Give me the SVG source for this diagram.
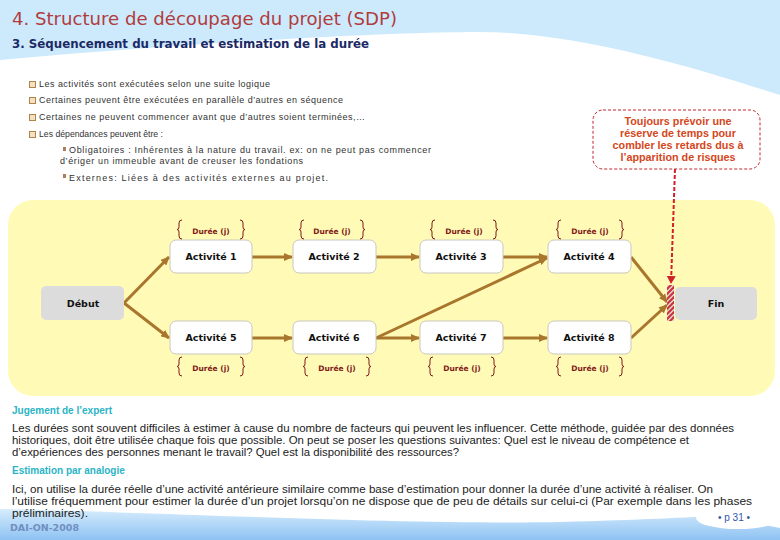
<svg xmlns="http://www.w3.org/2000/svg" width="780" height="540" viewBox="0 0 780 540">
<defs>
<style>
.t{font-family:"DejaVu Sans",Verdana,sans-serif}
.b{font-family:"Liberation Sans",Arial,sans-serif}
.bul{font-family:"Liberation Sans",Arial,sans-serif;font-size:9px;fill:#333}
.act rect{fill:#fff;stroke:#c8c8c0;stroke-width:1}
.act text{font-family:"DejaVu Sans",Verdana,sans-serif;font-size:9.5px;font-weight:bold;fill:#111;text-anchor:middle}
.term rect{fill:#dcdcdc}
.dur text{font-family:"DejaVu Sans",Verdana,sans-serif;font-size:7.5px;font-weight:bold;fill:#7f1a1a;text-anchor:middle}
.dur path{fill:none;stroke:#7f1a1a;stroke-width:1}
.conn line{stroke:#a8762c;stroke-width:3;marker-end:url(#ah)}
.para{font-size:10px;fill:#222}
.hd{font-size:10px;font-weight:bold;fill:#2ab4c6}
</style>
<marker id="ah" markerUnits="userSpaceOnUse" markerWidth="9" markerHeight="8" refX="8" refY="4" orient="auto">
<path d="M0,0 L9,4 L0,8 z" fill="#a8762c"/>
</marker>
<marker id="rh" markerUnits="userSpaceOnUse" markerWidth="9" markerHeight="9" refX="7" refY="4.5" orient="auto">
<path d="M0,0 L8,4.5 L0,9 z" fill="#d0202a"/>
</marker>
<clipPath id="strip"><rect x="667" y="285" width="7" height="36"/></clipPath>
<linearGradient id="foot" x1="0" y1="0" x2="0" y2="1">
<stop offset="0" stop-color="#d6ecfd"/>
<stop offset="1" stop-color="#8ec2f2"/>
</linearGradient>
</defs>

<rect width="780" height="540" fill="#fff"/>
<path d="M0,0 H780 V95 C690,66 570,30 470,32 C380,33 200,42 0,60 Z" fill="#cdeafc"/>

<text class="t" x="12" y="25" font-size="17" fill="#b03c3c" textLength="385" lengthAdjust="spacingAndGlyphs">4. Structure de découpage du projet (SDP)</text>
<text class="t" x="12" y="48" font-size="12" font-weight="bold" fill="#1b2a66" textLength="357" lengthAdjust="spacingAndGlyphs">3. Séquencement du travail et estimation de la durée</text>

<g id="bullets">
<g fill="#f2e2c4" stroke="#b08448" stroke-width="1">
<rect x="29.5" y="81.5" width="6" height="6"/>
<rect x="29.5" y="97.5" width="6" height="6"/>
<rect x="29.5" y="114.5" width="6" height="6"/>
<rect x="29.5" y="131.5" width="6" height="6"/>
</g>
<g fill="#a88060">
<rect x="63" y="147" width="3" height="4"/>
<rect x="63" y="174" width="3" height="4"/>
</g>
<text class="bul" x="39" y="87" textLength="231" lengthAdjust="spacing">Les activités sont exécutées selon une suite logique</text>
<text class="bul" x="39" y="103" textLength="304" lengthAdjust="spacing">Certaines peuvent être exécutées en parallèle d’autres en séquence</text>
<text class="bul" x="39" y="120" textLength="326" lengthAdjust="spacing">Certaines ne peuvent commencer avant que d’autres soient terminées,…</text>
<text class="bul" x="39" y="137" textLength="124" lengthAdjust="spacingAndGlyphs">Les dépendances peuvent être :</text>
<text class="bul" x="69" y="153" textLength="362" lengthAdjust="spacing">Obligatoires : Inhérentes à la nature du travail.  ex: on ne peut pas commencer</text>
<text class="bul" x="60" y="164" textLength="243" lengthAdjust="spacing">d’ériger un immeuble avant de creuser les fondations</text>
<text class="bul" x="69" y="181" textLength="259" lengthAdjust="spacing">Externes: Liées à des activités externes au projet.</text>
</g>

<rect x="8" y="200" width="767" height="196" rx="25" fill="#fffab6"/>

<g id="callout">
<rect x="593" y="110" width="167" height="59" rx="10" fill="none" stroke="#c0282e" stroke-width="1" stroke-dasharray="3,2"/>
<g class="b" font-size="10.8" font-weight="bold" fill="#d4471c" text-anchor="middle">
<text x="678" y="125">Toujours prévoir une</text>
<text x="678" y="137">réserve de temps pour</text>
<text x="678" y="149">combler les retards dus à</text>
<text x="678" y="161">l’apparition de risques</text>
</g>
</g>

<g id="connectors" class="conn">
<line x1="124" y1="303" x2="169" y2="257"/>
<line x1="124" y1="303" x2="169" y2="338"/>
<line x1="252" y1="257" x2="292" y2="257"/>
<line x1="376" y1="257" x2="419" y2="257"/>
<line x1="503" y1="257" x2="547" y2="257"/>
<line x1="252" y1="338" x2="292" y2="338"/>
<line x1="376" y1="338" x2="419" y2="338"/>
<line x1="503" y1="338" x2="547" y2="338"/>
<line x1="376" y1="338" x2="547" y2="258"/>
<line x1="631" y1="257" x2="667" y2="302"/>
<line x1="631" y1="338" x2="667" y2="305"/>
<line x1="675" y1="169" x2="671" y2="283" style="stroke:#d0202a;stroke-width:2;stroke-dasharray:4,2;marker-end:url(#rh)"/>
</g>

<g id="debut" class="term">
<rect x="41" y="286" width="83" height="34" rx="5"/>
<text class="t" x="83" y="307" font-size="9.5" font-weight="bold" text-anchor="middle" fill="#111">Début</text>
</g>
<g id="fin" class="term">
<rect x="675" y="287" width="82" height="33" rx="5"/>
<rect x="667" y="285" width="7" height="36" fill="#fff"/>
<g clip-path="url(#strip)" stroke="#d0303a" stroke-width="2">
<line x1="664" y1="292" x2="678" y2="278"/>
<line x1="664" y1="297" x2="678" y2="283"/>
<line x1="664" y1="302" x2="678" y2="288"/>
<line x1="664" y1="307" x2="678" y2="293"/>
<line x1="664" y1="312" x2="678" y2="298"/>
<line x1="664" y1="317" x2="678" y2="303"/>
<line x1="664" y1="322" x2="678" y2="308"/>
<line x1="664" y1="327" x2="678" y2="313"/>
<line x1="664" y1="332" x2="678" y2="318"/>
</g>
<text class="t" x="716" y="307" font-size="9.5" font-weight="bold" text-anchor="middle" fill="#111">Fin</text>
</g>

<g id="a1" class="act"><rect x="170" y="240" width="82" height="33" rx="6"/><text x="211" y="260">Activité 1</text></g>
<g id="a2" class="act"><rect x="293" y="240" width="83" height="33" rx="6"/><text x="334" y="260">Activité 2</text></g>
<g id="a3" class="act"><rect x="420" y="240" width="83" height="33" rx="6"/><text x="461" y="260">Activité 3</text></g>
<g id="a4" class="act"><rect x="548" y="240" width="83" height="33" rx="6"/><text x="589" y="260">Activité 4</text></g>
<g id="a5" class="act"><rect x="170" y="321" width="82" height="33" rx="6"/><text x="211" y="341">Activité 5</text></g>
<g id="a6" class="act"><rect x="293" y="321" width="83" height="33" rx="6"/><text x="334" y="341">Activité 6</text></g>
<g id="a7" class="act"><rect x="420" y="321" width="83" height="33" rx="6"/><text x="461" y="341">Activité 7</text></g>
<g id="a8" class="act"><rect x="548" y="321" width="83" height="33" rx="6"/><text x="589" y="341">Activité 8</text></g>

<g id="durees" class="dur">
<g transform="translate(211,220)"><path d="M-29,0 Q-32,0 -32,3 V7 Q-32,9.5 -34,9.5 Q-32,9.5 -32,12 V16 Q-32,19 -29,19 M29,0 Q32,0 32,3 V7 Q32,9.5 34,9.5 Q32,9.5 32,12 V16 Q32,19 29,19"/><text x="0" y="14">Durée (j)</text></g>
<g transform="translate(332,220)"><path d="M-28,0 Q-31,0 -31,3 V7 Q-31,9.5 -33,9.5 Q-31,9.5 -31,12 V16 Q-31,19 -28,19 M28,0 Q31,0 31,3 V7 Q31,9.5 33,9.5 Q31,9.5 31,12 V16 Q31,19 28,19"/><text x="0" y="14">Durée (j)</text></g>
<g transform="translate(464,220)"><path d="M-29,0 Q-32,0 -32,3 V7 Q-32,9.5 -34,9.5 Q-32,9.5 -32,12 V16 Q-32,19 -29,19 M29,0 Q32,0 32,3 V7 Q32,9.5 34,9.5 Q32,9.5 32,12 V16 Q32,19 29,19"/><text x="0" y="14">Durée (j)</text></g>
<g transform="translate(590,220)"><path d="M-29,0 Q-32,0 -32,3 V7 Q-32,9.5 -34,9.5 Q-32,9.5 -32,12 V16 Q-32,19 -29,19 M29,0 Q32,0 32,3 V7 Q32,9.5 34,9.5 Q32,9.5 32,12 V16 Q32,19 29,19"/><text x="0" y="14">Durée (j)</text></g>
<g transform="translate(211,357)"><path d="M-29,0 Q-32,0 -32,3 V7 Q-32,9.5 -34,9.5 Q-32,9.5 -32,12 V16 Q-32,19 -29,19 M29,0 Q32,0 32,3 V7 Q32,9.5 34,9.5 Q32,9.5 32,12 V16 Q32,19 29,19"/><text x="0" y="14">Durée (j)</text></g>
<g transform="translate(337,357)"><path d="M-29,0 Q-32,0 -32,3 V7 Q-32,9.5 -34,9.5 Q-32,9.5 -32,12 V16 Q-32,19 -29,19 M29,0 Q32,0 32,3 V7 Q32,9.5 34,9.5 Q32,9.5 32,12 V16 Q32,19 29,19"/><text x="0" y="14">Durée (j)</text></g>
<g transform="translate(462,357)"><path d="M-29,0 Q-32,0 -32,3 V7 Q-32,9.5 -34,9.5 Q-32,9.5 -32,12 V16 Q-32,19 -29,19 M29,0 Q32,0 32,3 V7 Q32,9.5 34,9.5 Q32,9.5 32,12 V16 Q32,19 29,19"/><text x="0" y="14">Durée (j)</text></g>
<g transform="translate(590,357)"><path d="M-29,0 Q-32,0 -32,3 V7 Q-32,9.5 -34,9.5 Q-32,9.5 -32,12 V16 Q-32,19 -29,19 M29,0 Q32,0 32,3 V7 Q32,9.5 34,9.5 Q32,9.5 32,12 V16 Q32,19 29,19"/><text x="0" y="14">Durée (j)</text></g>
</g>

<path d="M0,509 C150,512 400,525 560,522 C640,520 690,517 720,516 L780,528 V540 H0 Z" fill="url(#foot)"/>
<ellipse cx="738" cy="518" rx="42" ry="11" fill="#fff"/>

<g id="texts">
<text class="b hd" x="12" y="414">Jugement de l’expert</text>
<text class="b para" x="12" y="432" textLength="722" lengthAdjust="spacingAndGlyphs">Les durées sont souvent difficiles à estimer à cause du nombre de facteurs qui peuvent les influencer. Cette méthode, guidée par des données</text>
<text class="b para" x="12" y="444" textLength="677" lengthAdjust="spacingAndGlyphs">historiques, doit être utilisée chaque fois que possible.  On peut se poser les questions suivantes: Quel est le niveau de compétence et</text>
<text class="b para" x="12" y="456" textLength="447" lengthAdjust="spacingAndGlyphs">d’expériences des personnes menant le travail? Quel est la disponibilité des ressources?</text>
<text class="b hd" x="12" y="474">Estimation par analogie</text>
<text class="b para" x="12" y="493" textLength="701" lengthAdjust="spacingAndGlyphs">Ici, on utilise la durée réelle d’une activité antérieure similaire comme base d’estimation pour donner la durée d’une activité à réaliser. On</text>
<text class="b para" x="12" y="505" textLength="740" lengthAdjust="spacingAndGlyphs">l’utilise fréquemment pour estimer la durée d’un projet lorsqu’on ne dispose que de peu de détails sur celui-ci (Par exemple dans les phases</text>
<text class="b para" x="12" y="517" textLength="76" lengthAdjust="spacingAndGlyphs">préliminaires).</text>
<text class="t" x="10" y="531" font-size="8.5" font-weight="bold" fill="#6f8fc0" textLength="69" lengthAdjust="spacingAndGlyphs">DAI-ON-2008</text>
<text class="b" x="734" y="521" font-size="10" fill="#3355aa" text-anchor="middle">• p 31 •</text>
</g>
</svg>
